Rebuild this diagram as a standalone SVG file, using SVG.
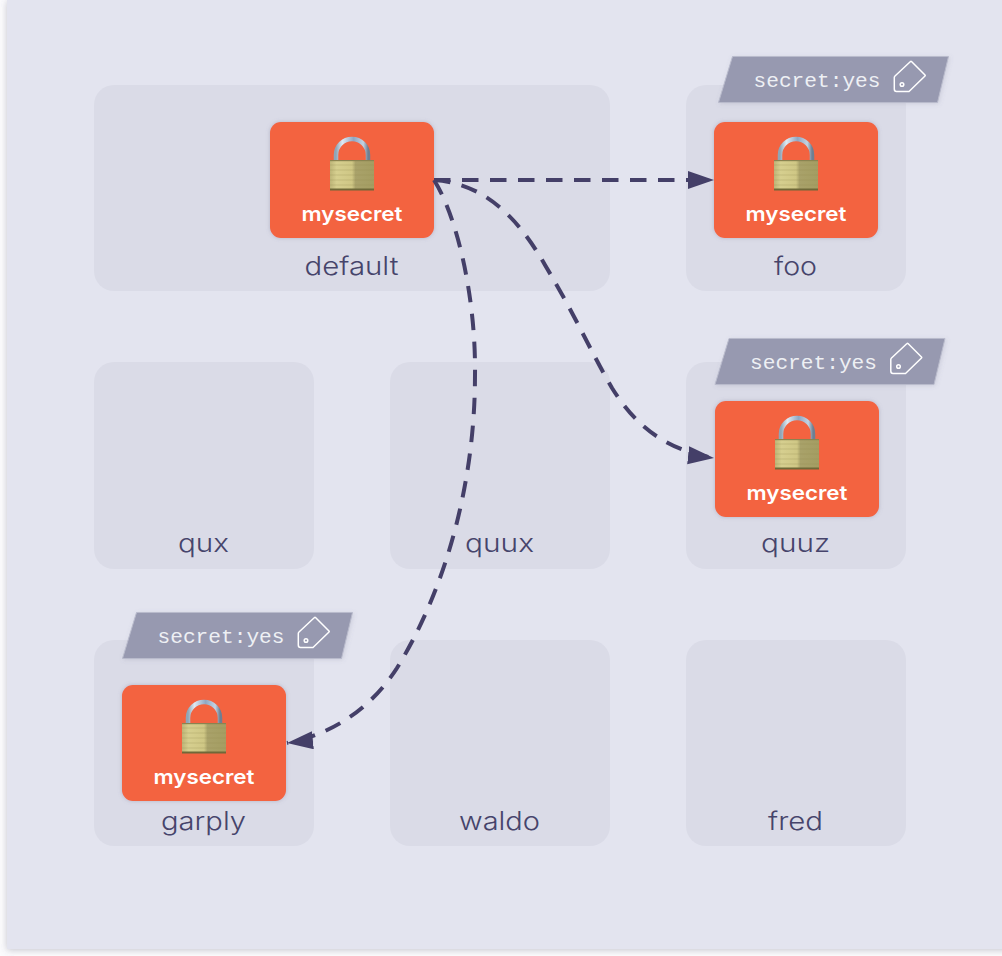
<svg xmlns="http://www.w3.org/2000/svg" width="1002" height="956" viewBox="0 0 1002 956">
<style>
.ns{fill:#dadbe7}
.nl{font-family:Inter,"Liberation Sans",sans-serif;font-size:25px;font-weight:300;fill:#46446b;text-anchor:middle}
.card{fill:#f3633f;filter:url(#cs)}
.cl{font-family:Inter,"Liberation Sans",sans-serif;font-size:20px;font-weight:600;fill:#fff;text-anchor:middle}
.tag{fill:#9799b0;stroke:#b9bbcc;stroke-width:1;filter:url(#ts)}
.tt{font-family:"Liberation Mono",monospace;font-size:20px;fill:#eef0f4}
.ic{fill:none;stroke:#fff;stroke-width:1.500;stroke-linejoin:round}
.c{fill:none;stroke:#443f68;stroke-width:4;stroke-dasharray:16.500 11.500}
.a{fill:#443f68}
</style>
<defs>
<filter id="ps" x="-5%" y="-5%" width="110%" height="110%"><feDropShadow dx="0" dy="1" stdDeviation="3.500" flood-color="#5a5a70" flood-opacity=".35"/></filter>
<filter id="cs" x="-10%" y="-10%" width="120%" height="120%"><feDropShadow dx="0" dy="0" stdDeviation="2" flood-color="#70708a" flood-opacity=".35"/></filter>
<filter id="ts" x="-5%" y="-15%" width="110%" height="130%"><feDropShadow dx="1" dy="1" stdDeviation="2" flood-color="#70708a" flood-opacity=".18"/></filter>
<linearGradient id="sh" x1="0" x2="1" y1="0" y2="0"><stop offset="0" stop-color="#8fa6b8"/><stop offset=".2" stop-color="#dfe9f2"/><stop offset=".55" stop-color="#8fa7c4"/><stop offset=".85" stop-color="#c3d3e2"/><stop offset="1" stop-color="#6e7f92"/></linearGradient>
<linearGradient id="bd" x1="0" x2="1" y1="0" y2="0"><stop offset="0" stop-color="#bdb578"/><stop offset=".15" stop-color="#d6cf8f"/><stop offset=".5" stop-color="#cfc785"/><stop offset=".58" stop-color="#a9a26a"/><stop offset="1" stop-color="#a49d62"/></linearGradient>
<marker id="a0" markerUnits="userSpaceOnUse" markerWidth="28" markerHeight="20" refX="26" refY="9" orient="0"><path class="a" d="M0 0L26 9L0 18Z"/></marker>
<marker id="a1" markerUnits="userSpaceOnUse" markerWidth="28" markerHeight="20" refX="26" refY="9" orient="6"><path class="a" d="M0 0L26 9L0 18Z"/></marker>
<marker id="a2" markerUnits="userSpaceOnUse" markerWidth="28" markerHeight="20" refX="26" refY="9" orient="174"><path class="a" d="M0 0L26 9L0 18Z"/></marker>
<g id="lock">
<path d="M-16 -13V-18A16 16 0 0 1 16 -18V-13" fill="none" stroke="url(#sh)" stroke-width="4.500"/>
<rect x="-22" y="-13" width="44" height="30" fill="url(#bd)"/>
<path d="M-22 -8H22M-22 -3H22M-22 2H22M-22 7H22M-22 12H22" stroke="#8f8850" stroke-opacity=".28" stroke-width="1"/>
<rect x="-22" y="-13" width="44" height="1.200" fill="#8a8350"/>
<rect x="-22" y="15.500" width="44" height="2" fill="#6f6838"/>
</g>
<g id="card">
<rect class="card" x="-82" y="-58" width="164" height="116" rx="11"/>
<use href="#lock" x="0" y="-7"/>
<text class="cl" x="0" y="41" textLength="101" lengthAdjust="spacingAndGlyphs">mysecret</text>
</g>
<g id="badge">
<path class="tag" d="M14 0H230L219 46H0Z"/>
<text class="tt" x="35" y="30" textLength="127" lengthAdjust="spacingAndGlyphs">secret:yes</text>
<path class="ic" d="M175.800 21V32.500Q175.800 35 178 35H190.500L206.500 19.500Q207 19 206.500 18.500L193 5Q192.500 4.500 192 5L176.500 19.500Q175.800 20.200 175.800 21Z"/>
<circle class="ic" cx="183.500" cy="28" r="1.800"/>
</g>
</defs>
<rect width="1002" height="956" fill="#fbfbfd"/>
<rect id="panel" x="7" y="0" width="1020" height="949" fill="#e3e4ef" filter="url(#ps)"/>
<g id="n-default"><rect class="ns" x="94" y="85" width="516" height="206" rx="20"/><text class="nl" x="351.500" y="275" textLength="94" lengthAdjust="spacingAndGlyphs">default</text></g>
<g id="n-foo"><rect class="ns" x="686" y="85" width="220" height="206" rx="20"/><text class="nl" x="795.500" y="275" textLength="43" lengthAdjust="spacingAndGlyphs">foo</text></g>
<g id="n-qux"><rect class="ns" x="94" y="362" width="220" height="207" rx="20"/><text class="nl" x="203.500" y="552" textLength="51" lengthAdjust="spacingAndGlyphs">qux</text></g>
<g id="n-quux"><rect class="ns" x="390" y="362" width="220" height="207" rx="20"/><text class="nl" x="499.500" y="552" textLength="69" lengthAdjust="spacingAndGlyphs">quux</text></g>
<g id="n-quuz"><rect class="ns" x="686" y="362" width="220" height="207" rx="20"/><text class="nl" x="795.500" y="552" textLength="69" lengthAdjust="spacingAndGlyphs">quuz</text></g>
<g id="n-garply"><rect class="ns" x="94" y="640" width="220" height="206" rx="20"/><text class="nl" x="203.500" y="830" textLength="85" lengthAdjust="spacingAndGlyphs">garply</text></g>
<g id="n-waldo"><rect class="ns" x="390" y="640" width="220" height="206" rx="20"/><text class="nl" x="499.500" y="830" textLength="81" lengthAdjust="spacingAndGlyphs">waldo</text></g>
<g id="n-fred"><rect class="ns" x="686" y="640" width="220" height="206" rx="20"/><text class="nl" x="795.500" y="830" textLength="55" lengthAdjust="spacingAndGlyphs">fred</text></g>
<g id="s-default"><use href="#card" x="352" y="180"/></g>
<g id="s-foo"><use href="#card" x="796" y="180"/><use href="#badge" x="718.500" y="56.500"/></g>
<g id="s-quuz"><use href="#card" x="797" y="459"/><use href="#badge" x="715" y="338.500"/></g>
<g id="s-garply"><use href="#card" x="204" y="743"/><use href="#badge" x="122.500" y="612.500"/></g>
<g id="connectors">
<path class="c" marker-end="url(#a0)" d="M434 180H714"/>
<path class="c" marker-end="url(#a1)" d="M434 180C480 183 515 212 545 265C575 315 590 350 612 388C635 425 665 450 714 458"/>
<path class="c" marker-end="url(#a2)" d="M434 180C458 218 476 300 475 375C475 485 445 590 397 668C370 710 330 735 287 743"/>
</g>
</svg>
